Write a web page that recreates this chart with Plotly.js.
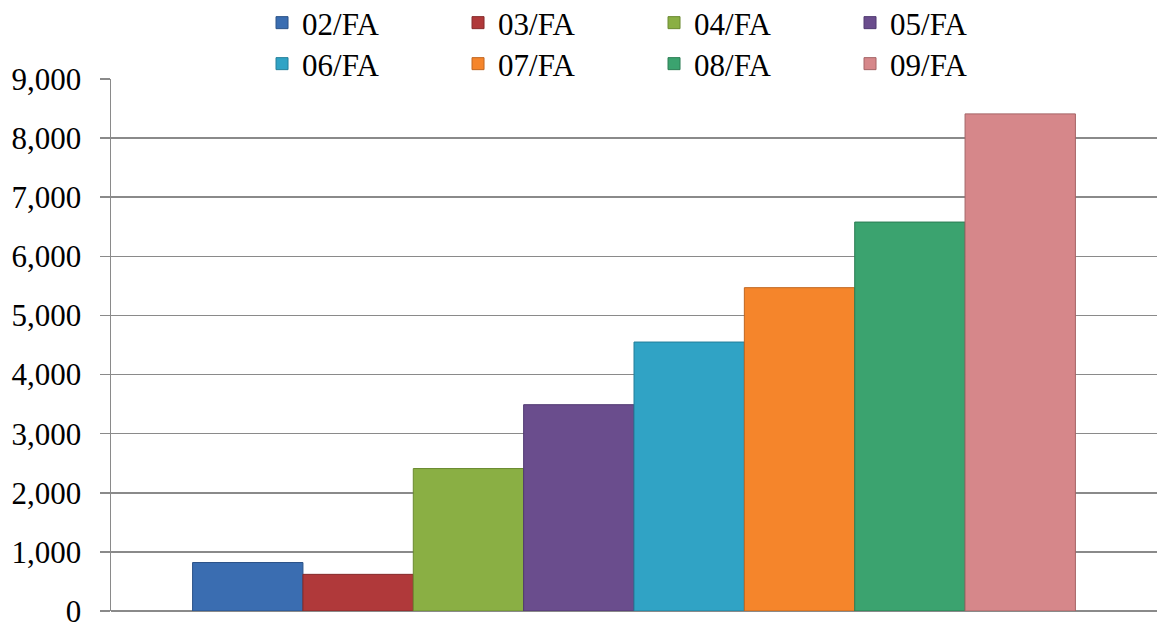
<!DOCTYPE html>
<html>
<head>
<meta charset="utf-8">
<script src="https://cdn.plot.ly/plotly-3.0.1.min.js"></script>
<style>
html,body{margin:0;padding:0;background:#fff;}
#chart{width:1162px;height:629px;}
#chart .legendtext{font-family:'Liberation Serif', serif !important;}
</style>
</head>
<body>
<div id="chart"></div>
<script>
var seriesNames = ['02/FA', '03/FA', '04/FA', '05/FA', '06/FA', '07/FA', '08/FA', '09/FA'];
var seriesValues = [820, 620, 2410, 3490, 4550, 5470, 6580, 8410];
var seriesColors = ['#3a6db1', '#b0393a', '#8aaf44', '#6a4d8d', '#30a3c5', '#f5852b', '#3ba36f', '#d6878a'];
var seriesEdges = ['#2a5288', '#852a2a', '#6a8a30', '#4f3870', '#237f9a', '#c0661f', '#2b7d53', '#a56466'];
var category = ['FA'];
var yTicks = [0, 1000, 2000, 3000, 4000, 5000, 6000, 7000, 8000, 9000];

var FONT = 'Liberation Serif';
var GRID = '#8a8a8a';

var traces = seriesNames.map(function (name, i) {
  return {
    type: 'bar',
    name: name,
    x: category,
    y: [seriesValues[i]],
    marker: { color: seriesColors[i], line: { color: seriesEdges[i], width: 1 } },
    legend: i < 4 ? 'legend' : 'legend2',
    hoverinfo: 'name+y'
  };
});

function makeLegend(yPix) {
  return {
    orientation: 'h',
    xref: 'container', yref: 'container',
    x: 0.2255, y: 1 - yPix / 629,
    xanchor: 'left', yanchor: 'middle',
    font: { family: FONT, size: 31, color: '#000000' },
    entrywidth: 151, entrywidthmode: 'pixels',
    bgcolor: 'rgba(0,0,0,0)', borderwidth: 0,
    traceorder: 'normal'
  };
}

var layout = {
  width: 1162, height: 629,
  margin: { l: 111, r: 5, t: 79, b: 18, autoexpand: false },
  paper_bgcolor: '#fff', plot_bgcolor: '#fff',
  barmode: 'group', bargap: 0.156, bargroupgap: 0,
  font: { family: FONT, size: 31, color: '#000' },
  showlegend: true,
  legend: makeLegend(23),
  legend2: makeLegend(64),
  xaxis: {
    type: 'category', showticklabels: false, ticks: '', showgrid: false,
    showline: false, zeroline: false, fixedrange: true
  },
  yaxis: {
    range: [0, 9000], tickvals: yTicks, tickformat: ',d',
    showgrid: true, gridcolor: GRID, gridwidth: 1.5,
    zeroline: true, zerolinecolor: GRID, zerolinewidth: 1.5,
    showline: true, linecolor: GRID, linewidth: 1.5,
    ticks: 'outside', ticklen: 10, tickcolor: GRID, tickwidth: 1.5,
    ticklabelstandoff: 12,
    tickfont: { family: FONT, size: 31, color: '#000' },
    fixedrange: true
  }
};

Plotly.newPlot('chart', traces, layout, { displayModeBar: false, staticPlot: true });
</script>
</body>
</html>
